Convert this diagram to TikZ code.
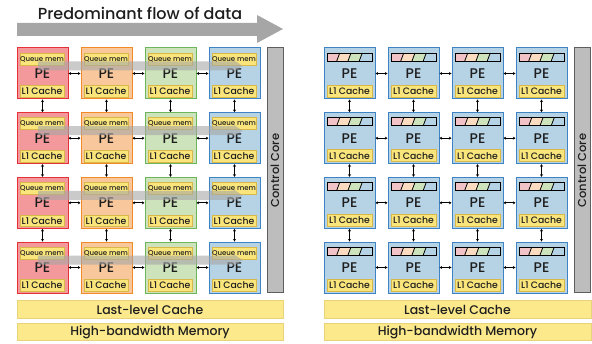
\documentclass[tikz,border=0pt]{standalone}
\usepackage{fontspec}
\setmainfont{Poppins}[UprightFont={* Medium}]
\usetikzlibrary{arrows.meta,calc}
\definecolor{redF}{HTML}{F3989B}
\definecolor{redD}{HTML}{E53138}
\definecolor{oraF}{HTML}{F8C79B}
\definecolor{oraD}{HTML}{F28A28}
\definecolor{greF}{HTML}{CDE3BC}
\definecolor{greD}{HTML}{6DB55A}
\definecolor{bluF}{HTML}{B6D3E6}
\definecolor{bluD}{HTML}{3E83C3}
\definecolor{yelF}{HTML}{F9E57B}
\definecolor{yelD}{HTML}{D9B84A}
\definecolor{llcF}{HTML}{FBE98C}
\definecolor{llcD}{HTML}{E8D37A}
\definecolor{ccF}{HTML}{BDBDBD}
\definecolor{ccD}{HTML}{5E5E5E}
\definecolor{flowG}{HTML}{A6A6A6}
\definecolor{txt}{HTML}{1E1E1E}
\definecolor{qPink}{HTML}{F2C3C6}
\definecolor{qPeach}{HTML}{FBDCC0}
\begin{document}
\begin{tikzpicture}[x=1pt,y=-1pt,
  every node/.style={text=txt, inner sep=0pt},
  pebox/.style={draw=#1D, fill=#1F, line width=1pt, minimum width=51pt, minimum height=51pt, font=\fontsize{14}{14}\selectfont},
  qmem/.style={draw=yelD, fill=yelF, line width=0.8pt, minimum width=44pt, minimum height=12pt, font=\fontsize{7}{7}\selectfont},
  lone/.style={draw=yelD, fill=yelF, line width=0.8pt, minimum width=44pt, minimum height=11.5pt, font=\fontsize{9.3}{9}\selectfont},
  qbar/.style={minimum width=45pt, minimum height=8pt},
  ccore/.style={draw=ccD, fill=ccF, line width=1pt, minimum width=16pt, minimum height=245pt},
  wide/.style={draw=llcD, fill=llcF, line width=0.8pt, minimum height=17.5pt, font=\fontsize{12.5}{12}\selectfont},
  link/.style={line width=0.9pt, {Stealth[length=2.6pt,width=3pt]}-{Stealth[length=2.6pt,width=3pt]}},
  flow/.style={fill=flowG, fill opacity=0.6, draw=none}
]
\useasboundingbox (0,0) rectangle (592,344);

% big arrow and title
\fill[flowG] (17,23) -- (257,23) -- (257,15) -- (283,29) -- (257,43) -- (257,36) -- (17,36) -- cycle;
\node[font=\fontsize{16}{16}\selectfont] (title) at (140,13) {Predominant flow of data};

% ---------- left panel ----------
\foreach \c/\col in {0/red,1/ora,2/gre,3/blu}{
  \foreach \r in {0,1,2,3}{
    \node[pebox=\col] (L-\r-\c) at ({42.5+64*\c},{73.5+64.67*\r}) {PE};
    \node[qmem] (Lq-\r-\c) at ($(L-\r-\c.center)+(-0.5,-14.5)$) {Queue mem};
    \node[lone] (Ll-\r-\c) at ($(L-\r-\c.center)+(-0.5,18)$) {L1 Cache};
  }
}
\foreach \r in {0,1,2,3}{
  \foreach \c/\n in {0/1,1/2,2/3}{
    \draw[link] (L-\r-\c.east) -- (L-\r-\n.west);
  }
}
\foreach \c in {0,1,2,3}{
  \foreach \r/\n in {0/1,1/2,2/3}{
    \draw[link] (L-\r-\c.south) -- (L-\n-\c.north);
  }
}
% flow bands
\foreach \r in {0,1,2,3}{
  \fill[flow] ($(L-\r-0.center)+(-4.5,-12)$) -- ($(L-\r-3.center)+(-1,-12)$) -- ($(L-\r-3.center)+(-1,-13.5)$)
    -- ($(L-\r-3.center)+(8,-7.5)$) -- ($(L-\r-3.center)+(-1,-1.5)$) -- ($(L-\r-3.center)+(-1,-3)$)
    -- ($(L-\r-0.center)+(-4.5,-3)$) -- cycle;
}
\node[ccore] (Lcc) at (275,170.5) {};
\node[rotate=90, font=\fontsize{11.5}{12}\selectfont] (Lcct) at (Lcc.center) {Control Core};
\node[wide, minimum width=266pt] (Lllc) at (150,309.5) {Last-level Cache};
\node[wide, minimum width=266pt] (Lhbm) at (150,332) {High-bandwidth Memory};

% ---------- right panel ----------
\foreach \c in {0,1,2,3}{
  \foreach \r in {0,1,2,3}{
    \node[pebox=blu] (R-\r-\c) at ({349.5+64*\c},{73.5+64.67*\r}) {PE};
    \node[qbar] (Rq-\r-\c) at ($(R-\r-\c.center)+(0,-16.5)$) {};
    \node[lone, minimum width=45pt, minimum height=12pt] (Rl-\r-\c) at ($(R-\r-\c.center)+(0,17.5)$) {L1 Cache};
    \begin{scope}[shift={(Rq-\r-\c.center)}]
      \fill[qPink] (-22.5,-4) -- (-9.75,-4) -- (-12.75,4) -- (-22.5,4) -- cycle;
      \fill[qPeach] (-9.75,-4) -- (1.5,-4) -- (-1.5,4) -- (-12.75,4) -- cycle;
      \fill[greF] (1.5,-4) -- (12.75,-4) -- (9.75,4) -- (-1.5,4) -- cycle;
      \fill[bluF] (12.75,-4) -- (22.5,-4) -- (22.5,4) -- (9.75,4) -- cycle;
      \draw[line width=0.8pt, black] (-9.75,-4) -- (-12.75,4) (1.5,-4) -- (-1.5,4) (12.75,-4) -- (9.75,4);
      \draw[line width=0.9pt, black] (-22.5,-4) rectangle (22.5,4);
    \end{scope}
  }
}
\foreach \r in {0,1,2,3}{
  \foreach \c/\n in {0/1,1/2,2/3}{
    \draw[link] (R-\r-\c.east) -- (R-\r-\n.west);
  }
}
\foreach \c in {0,1,2,3}{
  \foreach \r/\n in {0/1,1/2,2/3}{
    \draw[link] (R-\r-\c.south) -- (R-\n-\c.north);
  }
}
\node[ccore] (Rcc) at (582,170.5) {};
\node[rotate=90, font=\fontsize{11.5}{12}\selectfont] (Rcct) at (Rcc.center) {Control Core};
\node[wide, minimum width=267pt] (Rllc) at (457.5,309.5) {Last-level Cache};
\node[wide, minimum width=267pt] (Rhbm) at (457.5,332) {High-bandwidth Memory};
\end{tikzpicture}
\end{document}
